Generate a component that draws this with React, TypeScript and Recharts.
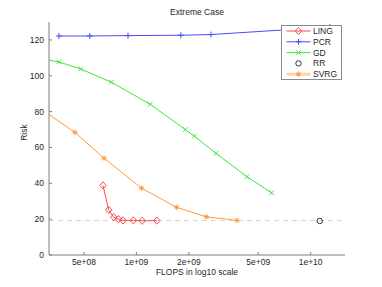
import React from 'react';
import { LineChart, Line, XAxis, YAxis, ReferenceLine, Legend } from 'recharts';

// ---- data ----
const lingFlops = [6.43e8, 6.93e8, 7.41e8, 7.89e8, 8.38e8, 9.61e8, 1.08e9, 1.31e9];
const lingRisk = [38.8, 25.2, 21.1, 20.0, 19.3, 19.3, 19.1, 19.2];

const pcrFlops = [3.59e8, 5.4e8, 8.95e8, 1.8e9, 2.68e9, 1.29e10];
const pcrRisk = [122.2, 122.2, 122.4, 122.6, 123.0, 127.2];

const gdFlops = [2.61e8, 3.59e8, 4.79e8, 7.18e8, 1.2e9, 1.91e9, 2.15e9, 2.87e9, 4.3e9, 5.97e9];
const gdRisk = [110.3, 107.7, 103.8, 96.4, 84.1, 70.0, 66.3, 56.7, 43.7, 34.7];

const rrFlops = [1.128e10];
const rrRisk = [19.0];

const svrgFlops = [2.78e8, 4.44e8, 6.52e8, 1.07e9, 1.7e9, 2.52e9, 3.78e9];
const svrgRisk = [82.0, 68.4, 54.0, 37.3, 26.6, 21.3, 19.3];

const baselineRisk = 19.2;

const xTicks = [5e8, 1e9, 2e9, 5e9, 1e10];
const xTickLabels = ['5e+08', '1e+09', '2e+09', '5e+09', '1e+10'];
const yTicks = [0, 20, 40, 60, 80, 100, 120];

const title = 'Extreme Case';
const xLabel = 'FLOPS in log10 scale';
const yLabel = 'Risk';

const toData = (xs: number[], ys: number[]) => xs.map((x, i) => ({ flops: x, risk: ys[i] }));

const FONT = '"Liberation Sans", Arial, Helvetica, sans-serif';
const AXIS = '#7f7f7f';
const TEXT = '#262626';

type Kind = 'diamond' | 'plus' | 'x' | 'circle' | 'star';

const series: { name: string; kind: Kind; color: string; data: { flops: number; risk: number }[]; line: boolean; legendStroke?: string; legendWidth?: number }[] = [
  { name: 'LING', kind: 'diamond', color: '#ff4a4a', data: toData(lingFlops, lingRisk), line: true },
  { name: 'PCR', kind: 'plus', color: '#4a4aff', data: toData(pcrFlops, pcrRisk), line: true },
  { name: 'GD', kind: 'x', color: '#3ee63e', data: toData(gdFlops, gdRisk), line: true },
  { name: 'RR', kind: 'circle', color: '#333333', data: toData(rrFlops, rrRisk), line: false },
  { name: 'SVRG', kind: 'star', color: '#ff9a3a', data: toData(svrgFlops, svrgRisk), line: true, legendStroke: '#ffd2aa', legendWidth: 3 },
];

function Marker({ kind, cx, cy, color }: { kind: Kind; cx: number; cy: number; color: string }) {
  if (cx == null || cy == null || isNaN(cx) || isNaN(cy)) return null;
  switch (kind) {
    case 'diamond':
      return <path d={`M${cx},${cy - 3.6}L${cx + 3.2},${cy}L${cx},${cy + 3.6}L${cx - 3.2},${cy}Z`} fill="none" stroke={color} strokeWidth={1} />;
    case 'plus':
      return <path d={`M${cx - 3},${cy}H${cx + 3}M${cx},${cy - 3}V${cy + 3}`} stroke={color} strokeWidth={1} fill="none" />;
    case 'x':
      return <path d={`M${cx - 2.3},${cy - 2.3}L${cx + 2.3},${cy + 2.3}M${cx - 2.3},${cy + 2.3}L${cx + 2.3},${cy - 2.3}`} stroke={color} strokeWidth={1} fill="none" />;
    case 'circle':
      return <circle cx={cx} cy={cy} r={2.7} fill="none" stroke={color} strokeWidth={1} />;
    case 'star':
      return (
        <path
          d={`M${cx - 2.6},${cy}H${cx + 2.6}M${cx},${cy - 2.6}V${cy + 2.6}M${cx - 2},${cy - 2}L${cx + 2},${cy + 2}M${cx - 2},${cy + 2}L${cx + 2},${cy - 2}`}
          stroke={color}
          strokeWidth={1}
          fill="none"
        />
      );
    default:
      return null;
  }
}

const XTick = (props: any) => {
  const { x, y, payload } = props;
  const idx = xTicks.indexOf(payload.value);
  return (
    <g>
      <line x1={x} y1={y} x2={x} y2={y - 3} stroke={AXIS} strokeWidth={1} />
      <text x={x} y={y + 10} textAnchor="middle" fontSize={8.5} fontFamily={FONT} fill={TEXT}>
        {idx >= 0 ? xTickLabels[idx] : String(payload.value)}
      </text>
    </g>
  );
};

const YTick = (props: any) => {
  const { x, y, payload } = props;
  return (
    <g>
      <line x1={x} y1={y} x2={x + 3} y2={y} stroke={AXIS} strokeWidth={1} />
      <text x={x - 5} y={y + 3} textAnchor="end" fontSize={8.5} fontFamily={FONT} fill={TEXT}>
        {payload.value}
      </text>
    </g>
  );
};

const LegendBox = () => {
  const rowH = 10.8;
  return (
    <svg width={61} height={55} style={{ display: 'block' }}>
      <rect x={0.5} y={0.5} width={60} height={54} fill="#ffffff" stroke="#8a8a8a" strokeWidth={1} />
      {series.map((s, i) => {
        const cy = 6 + i * rowH;
        return (
          <g key={s.name}>
            {s.line && (
              <line x1={5.5} y1={cy} x2={29.5} y2={cy} stroke={s.legendStroke || s.color} strokeWidth={s.legendWidth || 1} />
            )}
            <Marker kind={s.kind} cx={17.5} cy={cy} color={s.color} />
            <text x={32} y={cy + 3} fontSize={8.5} fontFamily={FONT} fill={TEXT}>
              {s.name}
            </text>
          </g>
        );
      })}
    </svg>
  );
};

export default function App() {
  return (
    <div style={{ position: 'absolute', left: 0, top: 0, width: 382, height: 287, background: '#ffffff' }}>
      <div
        style={{
          position: 'absolute',
          left: 49,
          width: 296,
          top: 8,
          textAlign: 'center',
          fontFamily: FONT,
          fontSize: 8.5,
          lineHeight: '9px',
          color: TEXT,
        }}
      >
        {title}
      </div>
      <LineChart width={382} height={287} margin={{ top: 22, right: 37, bottom: 7, left: 9 }}>
        <XAxis
          type="number"
          dataKey="flops"
          scale="log"
          domain={[3.15e8, 1.575e10]}
          allowDataOverflow
          ticks={xTicks}
          interval={0}
          height={25}
          tickSize={0}
          tickMargin={0}
          tickLine={false}
          axisLine={{ stroke: AXIS, strokeWidth: 1 }}
          tick={<XTick />}
          label={(p: any) => {
            const vb = p.viewBox || {};
            return (
              <text x={vb.x + vb.width / 2} y={vb.y + 20} textAnchor="middle" fontSize={8.5} fontFamily={FONT} fill={TEXT}>
                {xLabel}
              </text>
            );
          }}
        />
        <YAxis
          type="number"
          dataKey="risk"
          domain={[0, 130]}
          allowDataOverflow
          ticks={yTicks}
          interval={0}
          width={40}
          tickSize={0}
          tickMargin={0}
          tickLine={false}
          axisLine={{ stroke: AXIS, strokeWidth: 1 }}
          tick={<YTick />}
          label={(p: any) => {
            const vb = p.viewBox || {};
            const cx = 24;
            const cy = vb.y + vb.height / 2 - 6;
            return (
              <text x={cx} y={cy} transform={`rotate(-90 ${cx} ${cy})`} textAnchor="middle" dominantBaseline="central" fontSize={8.5} fontFamily={FONT} fill={TEXT}>
                {yLabel}
              </text>
            );
          }}
        />
        <ReferenceLine y={baselineRisk} stroke="#d4d4d4" strokeDasharray="5 4" strokeWidth={1} />
        {series.map((s) => (
          <Line
            key={s.name}
            name={s.name}
            data={s.data}
            dataKey="risk"
            type="linear"
            stroke={s.line ? s.color : 'none'}
            strokeWidth={1}
            isAnimationActive={false}
            legendType="none"
            dot={(props: any) => <Marker key={`${s.name}-${props.index}`} kind={s.kind} cx={props.cx} cy={props.cy} color={s.color} />}
            activeDot={false}
          />
        ))}
        <Legend
          layout="vertical"
          align="center"
          verticalAlign="middle"
          content={<LegendBox />}
          wrapperStyle={{ left: 281, top: 25, width: 61, height: 55 }}
        />
      </LineChart>
    </div>
  );
}
